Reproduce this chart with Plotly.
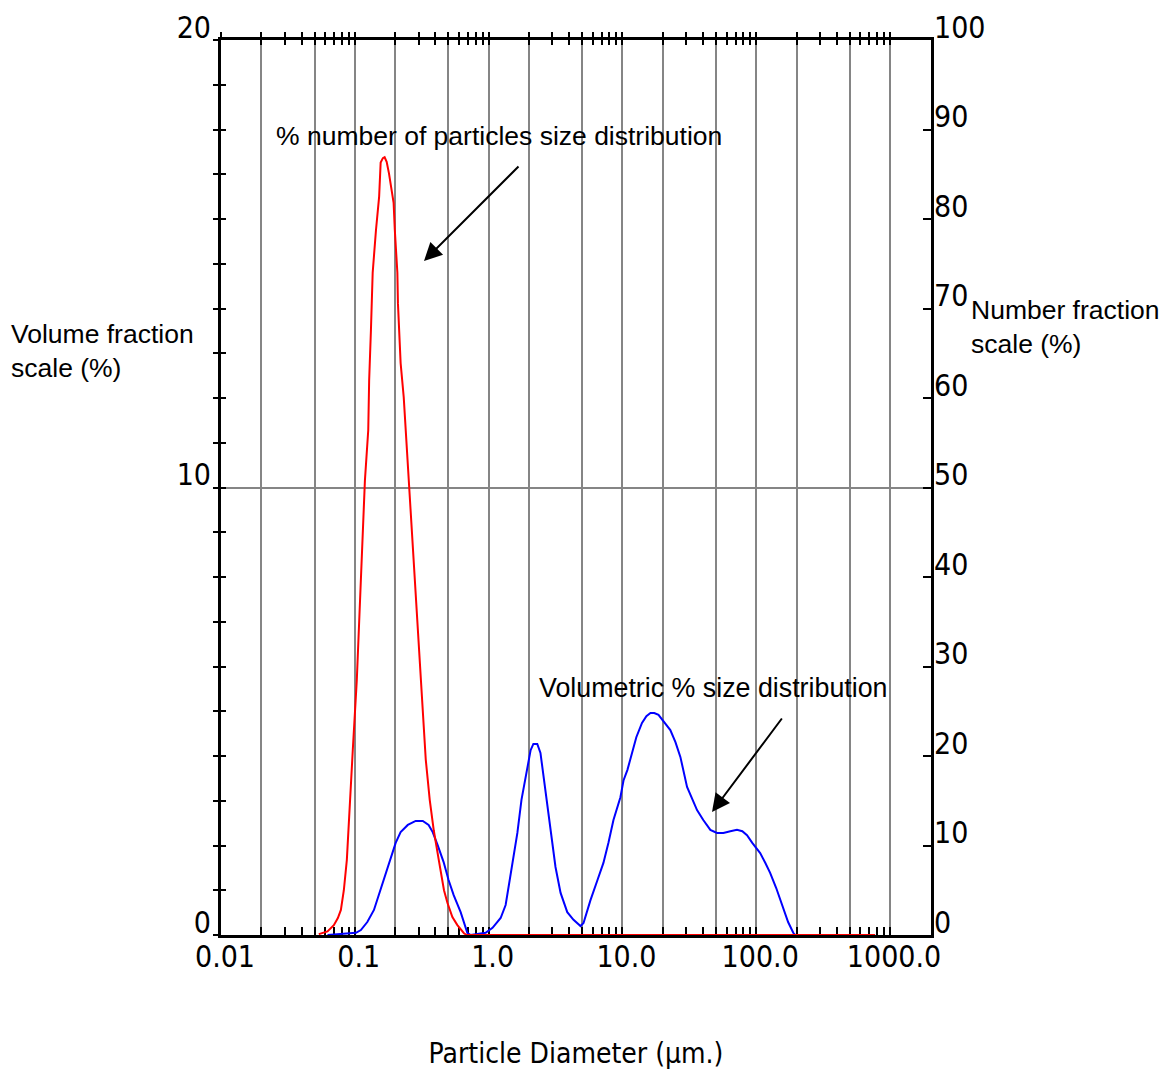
import plotly.graph_objects as go

# ---------------- data ----------------
# Volumetric % size distribution (left axis, volume fraction %)
vol_diam = [0.0625, 0.102, 0.111, 0.124, 0.139, 0.156, 0.170, 0.186, 0.202, 0.220,
            0.249, 0.285, 0.322, 0.356, 0.382, 0.416, 0.461, 0.502, 0.548, 0.618,
            0.693, 0.734, 0.95, 1.07, 1.23, 1.34, 1.50, 1.64, 1.76, 1.89,
            2.06, 2.16, 2.31, 2.44, 2.59, 2.76, 2.90, 3.16, 3.45, 3.87,
            4.31, 4.86, 5.12, 5.77, 6.51, 7.21, 7.86, 8.57, 9.66, 10.2,
            10.9, 11.8, 12.7, 14.0, 15.1, 16.2, 17.3, 18.6, 20.6, 22.8,
            24.9, 27.1, 30.4, 33.3, 36.1, 40.2, 45.4, 50.9, 56.8, 64.0,
            71.8, 78.7, 85.3, 93.4, 100, 107, 117, 127, 141, 159,
            173, 189, 195, 773]
vol_pct = [0, 0.05, 0.11, 0.29, 0.56, 1.01, 1.34, 1.72, 2.06, 2.30,
           2.46, 2.55, 2.55, 2.46, 2.30, 2.01, 1.63, 1.23, 0.89, 0.51,
           0.05, 0, 0.05, 0.16, 0.38, 0.67, 1.61, 2.28, 3.02, 3.53,
           4.13, 4.27, 4.27, 4.07, 3.46, 2.91, 2.41, 1.52, 0.94, 0.51,
           0.34, 0.20, 0.27, 0.78, 1.23, 1.61, 2.06, 2.57, 3.08, 3.46,
           3.69, 4.07, 4.42, 4.74, 4.89, 4.96, 4.96, 4.92, 4.76, 4.58,
           4.31, 3.98, 3.31, 3.02, 2.79, 2.57, 2.35, 2.28, 2.28, 2.32,
           2.35, 2.32, 2.23, 2.06, 1.94, 1.83, 1.61, 1.39, 1.05, 0.63,
           0.29, 0.05, 0, 0]

# % number of particles size distribution (right axis, number fraction %)
num_diam = [0.0538, 0.0625, 0.0697, 0.0747, 0.0787, 0.0828, 0.0872, 0.0918, 0.0966, 0.1035,
            0.111, 0.119, 0.126, 0.128, 0.132, 0.136, 0.144, 0.152, 0.156, 0.162,
            0.167, 0.173, 0.180, 0.195, 0.199, 0.208, 0.210, 0.220, 0.232, 0.240,
            0.249, 0.257, 0.271, 0.285, 0.301, 0.316, 0.339, 0.363, 0.389, 0.424,
            0.464, 0.492, 0.536, 0.584, 0.654, 0.685, 773]
num_pct = [0.1, 0.4, 1.1, 1.9, 2.8, 5.0, 8.4, 14.0, 20.7, 28.5,
           39.7, 50.8, 56.4, 62.0, 67.6, 74.0, 78.8, 82.5, 86.3, 86.8,
           86.9, 86.4, 85.1, 81.8, 78.8, 74.0, 70.6, 63.9, 60.1, 56.4,
           53.1, 48.6, 44.1, 37.4, 31.8, 26.3, 19.6, 15.1, 11.7, 8.4,
           5.0, 3.6, 2.0, 1.1, 0.2, 0, 0]

# ---------------- ticks ----------------
x_major_vals = [0.01, 0.1, 1, 10, 100, 1000]
x_major_text = ["0.01", "0.1", "1.0", "10.0", "100.0", "1000.0"]
x_minor_vals = [0.02, 0.03, 0.04, 0.05, 0.06, 0.07, 0.08, 0.09,
                0.2, 0.3, 0.4, 0.5, 0.6, 0.7, 0.8, 0.9,
                2, 3, 4, 5, 6, 7, 8, 9,
                20, 30, 40, 50, 60, 70, 80, 90,
                200, 300, 400, 500, 600, 700, 800, 900]
x_grid_vals = [0.02, 0.05, 0.1, 0.2, 0.5, 1, 2, 5, 10, 20, 50, 100, 200, 500, 1000]
y_left_vals = [0, 1, 2, 3, 4, 5, 6, 7, 8, 9, 10, 11, 12, 13, 14, 15, 16, 17, 18, 19, 20]
y_left_text = ["0", "", "", "", "", "", "", "", "", "", "10", "", "", "", "", "", "", "", "", "", "20"]
y_right_vals = [0, 10, 20, 30, 40, 50, 60, 70, 80, 90, 100]
y_right_text = ["0", "10", "20", "30", "40", "50", "60", "70", "80", "90", "100"]
y_grid_vals = [10]

x_top_vals = x_major_vals + x_minor_vals
XR = [-2.0, 3.306]

NARROW = "DejaVu Sans Condensed, Liberation Sans Narrow, Arial Narrow, sans-serif"
SANS = "Liberation Sans, Arial, sans-serif"
GRID = "#858585"

fig = go.Figure()
fig.add_trace(go.Scatter(x=vol_diam, y=vol_pct, mode="lines", xaxis="x", yaxis="y",
                         line=dict(color="#0000ff", width=2), showlegend=False))
fig.add_trace(go.Scatter(x=num_diam, y=num_pct, mode="lines", xaxis="x", yaxis="y2",
                         line=dict(color="#ff0000", width=2), showlegend=False))
# helper traces to bind the overlay axes
for xa, ya in [("x2", "y"), ("x3", "y"), ("x4", "y"), ("x", "y3"), ("x", "y4")]:
    fig.add_trace(go.Scatter(x=[None], y=[None], xaxis=xa, yaxis=ya, mode="lines",
                             showlegend=False, hoverinfo="skip"))

common_x = dict(type="log", range=XR, zeroline=False, layer="below traces", automargin=False)
common_y = dict(range=[0, 20], zeroline=False, layer="below traces", automargin=False)
tick_font = dict(family=NARROW, size=30, color="black")

fig.update_layout(
    width=1164, height=1070,
    margin=dict(l=221, r=233, t=40, b=135, autoexpand=False),
    paper_bgcolor="white", plot_bgcolor="white", showlegend=False,
    xaxis=dict(**common_x, anchor="y", side="bottom",
               tickvals=x_major_vals, ticktext=x_major_text,
               ticks="inside", ticklen=8, tickwidth=2, tickcolor="black",
               minor=dict(tickvals=x_minor_vals, ticks="inside", ticklen=8, tickwidth=2,
                          tickcolor="black", showgrid=False),
               showline=True, linecolor="black", linewidth=3, showgrid=False,
               ticklabelstandoff=-7, ticklabelshift=4,
               tickfont=tick_font,
               title=dict(text="Particle Diameter (µm.)", standoff=71,
                          font=dict(family=NARROW, size=28, color="black"))),
    xaxis2=dict(**common_x, anchor="y", overlaying="x", side="top",
                tickvals=x_top_vals, ticks="outside", ticklen=5, tickwidth=2, tickcolor="black",
                showticklabels=False, showline=True, linecolor="black", linewidth=3,
                showgrid=False),
    xaxis3=dict(**common_x, anchor="y", overlaying="x", side="top",
                tickvals=x_top_vals, ticks="inside", ticklen=5, tickwidth=2, tickcolor="black",
                showticklabels=False, showline=False, showgrid=False),
    xaxis4=dict(**common_x, anchor="y", overlaying="x", side="top",
                tickvals=x_grid_vals, ticks="", showticklabels=False, showline=False,
                showgrid=True, gridcolor=GRID, gridwidth=2),
    yaxis=dict(**common_y, anchor="x", side="left",
               tickvals=y_left_vals, ticktext=y_left_text,
               ticks="outside", ticklen=5, tickwidth=2, tickcolor="black",
               showline=True, linecolor="black", linewidth=3, showgrid=False,
               ticklabelshift=-13, ticklabelstandoff=-4,
               tickfont=tick_font),
    yaxis3=dict(**common_y, anchor="x", overlaying="y", side="left",
                tickvals=y_left_vals, ticks="inside", ticklen=5, tickwidth=2, tickcolor="black",
                showticklabels=False, showline=False, showgrid=False),
    yaxis4=dict(**common_y, anchor="x", overlaying="y", side="left",
                tickvals=y_grid_vals, ticks="", showticklabels=False, showline=False,
                showgrid=True, gridcolor=GRID, gridwidth=2),
    yaxis2=dict(range=[0, 100], zeroline=False, layer="below traces", automargin=False,
                anchor="x", overlaying="y", side="right",
                tickvals=y_right_vals, ticktext=y_right_text,
                ticks="inside", ticklen=8, tickwidth=2, tickcolor="black",
                showline=True, linecolor="black", linewidth=3, showgrid=False,
                ticklabelshift=-13, ticklabelstandoff=-6,
                tickfont=tick_font),
)

def px_x(p):
    return (p - 221) / 710

def px_y(p):
    return (935 - p) / 895

ann_font = dict(family=SANS, size=26.5, color="black")
fig.add_annotation(xref="paper", yref="paper", x=px_x(9), y=px_y(351), xanchor="left", yanchor="middle",
                   text="Volume fraction<br>scale (%)", showarrow=False, align="left", font=ann_font)
fig.add_annotation(xref="paper", yref="paper", x=px_x(969), y=px_y(327), xanchor="left", yanchor="middle",
                   text="Number fraction<br>scale (%)", showarrow=False, align="left", font=ann_font)
fig.add_annotation(xref="paper", yref="paper", x=px_x(274), y=px_y(136), xanchor="left", yanchor="middle",
                   text="% number of particles size distribution", showarrow=False, font=ann_font)
fig.add_annotation(xref="paper", yref="paper", x=px_x(537), y=px_y(688), xanchor="left", yanchor="middle",
                   text="Volumetric % size distribution", showarrow=False,
                   font=dict(family=SANS, size=26.8, color="black"))
# arrows
fig.add_annotation(xref="paper", yref="paper", x=px_x(424), y=px_y(261), ax=96, ay=-96,
                   text="", showarrow=True, arrowhead=2, arrowsize=1.8, arrowwidth=2,
                   arrowcolor="black")
fig.add_annotation(xref="paper", yref="paper", x=px_x(712), y=px_y(812), ax=71, ay=-95,
                   text="", showarrow=True, arrowhead=2, arrowsize=1.8, arrowwidth=2,
                   arrowcolor="black")

fig.write_html("out.html")
